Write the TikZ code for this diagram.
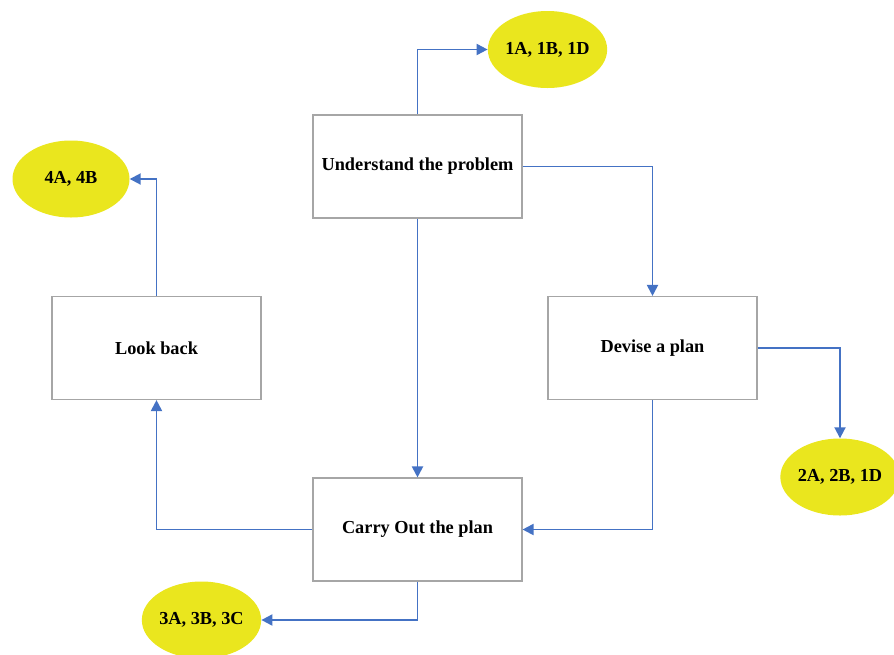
\documentclass[tikz,border=0pt]{standalone}
\usepackage{fontspec}
\setmainfont{Liberation Serif}
\usetikzlibrary{shapes.geometric,arrows.meta}
\definecolor{arrowblue}{HTML}{4472C4}
\definecolor{ovalyellow}{HTML}{EAE61E}
\definecolor{boxgray}{HTML}{A6A6A6}
\begin{document}
\begin{tikzpicture}[x=1pt,y=-1pt,
  stepbox/.style={draw=boxgray,line width=1.1pt,fill=white,minimum width=209pt,minimum height=103pt,inner sep=0pt,font=\bfseries\fontsize{18.3}{20}\selectfont},
  oval/.style={ellipse,fill=ovalyellow,draw=none,minimum width=117pt,minimum height=77pt,inner sep=0pt,font=\bfseries\fontsize{18.3}{20}\selectfont},
  link/.style={draw=arrowblue,line width=1.9pt,-{Triangle[length=11pt,width=11pt]}}]
\useasboundingbox (0,0) rectangle (894,654);
\node[stepbox] (u) at (417.5,166.5) {Understand the problem};
\node[stepbox] (l) at (156.5,348) {Look back};
\node[stepbox] (d) at (652.5,348) {Devise a plan};
\node[stepbox] (c) at (417.5,529.5) {Carry Out the plan};
\node[oval] (o1) at (547.5,49.5) {1A, 1B, 1D};
\node[oval] (o4) at (71,179) {4A, 4B};
\node[oval,minimum width=116pt] (o2) at (840,477) {2A, 2B, 1D};
\node[oval] (o3) at (201.5,620) {3A, 3B, 3C};
\draw[link] (u.north) |- (o1.west);
\draw[link] (u.east) -| (d.north);
\draw[link] (u.south) -- (c.north);
\draw[link] (d.east) -| (o2.north);
\draw[link] (d.south) |- (c.east);
\draw[link] (c.west) -| (l.south);
\draw[link] (l.north) |- (o4.east);
\draw[link] (c.south) |- (o3.east);
\end{tikzpicture}
\end{document}
